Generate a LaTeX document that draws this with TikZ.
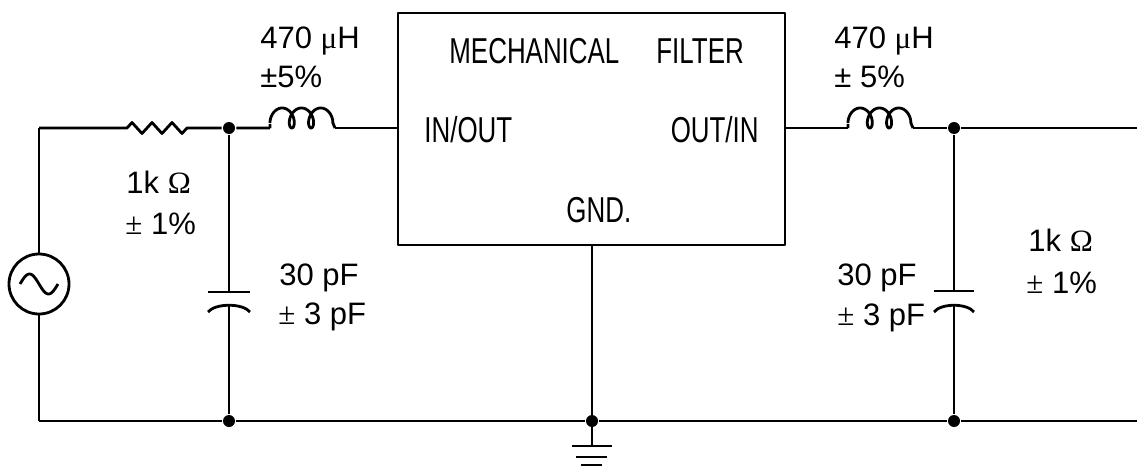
\documentclass[tikz,border=0pt]{standalone}
\usepackage{fontspec}
\usetikzlibrary{calc}
\setmainfont{Liberation Sans}
\newfontfamily\symf{Liberation Serif}
\newfontfamily\boxf[FakeStretch=0.72]{Liberation Sans}
\begin{document}
\begin{tikzpicture}[x=1pt,y=-1pt,line width=2.8pt,line join=round,
  dot/.style={circle,fill,inner sep=0pt,minimum size=12pt},
  lab/.style={inner sep=0pt,anchor=base west,font=\fontsize{31}{37}\selectfont},
  boxlab/.style={inner sep=0pt,anchor=base west,font=\boxf\fontsize{36}{42}\selectfont},
  filterbox/.style={draw,inner sep=0pt,outer sep=0pt,minimum width=387pt,minimum height=232pt,anchor=north west}]
\useasboundingbox (0,0) rectangle (1137,466);
% coordinates
\coordinate (srcT) at (39,128);
\coordinate (srcB) at (39,421);
\coordinate (r1a) at (127,128);
\coordinate (r1b) at (187,128);
\node[dot] (J1) at (229,128) {};
\coordinate (l1a) at (270,128);
\coordinate (l1b) at (335,128);
\node[filterbox] (mf) at (398,13) {};
\coordinate (l2a) at (848,128);
\coordinate (l2b) at (913,128);
\node[dot] (J2) at (954,128) {};
\coordinate (outT) at (1137,128);
\node[dot] (C1b) at (229,421) {};
\node[dot] (G) at (592,421) {};
\node[dot] (C2b) at (954,421) {};
\coordinate (outB) at (1137,421);
\coordinate (gb) at (592,446);
% source
\node[circle,draw,minimum size=60pt,inner sep=0pt,outer sep=0pt] (src) at (39,284) {};
\draw plot[domain=0:360,samples=60,variable=\t] ({20+38*\t/360},{284-10*sin(\t)});
\draw (srcT) -- (src.north);
\draw (src.south) -- (srcB);
% top-left wire and resistor
\draw (srcT) -- (r1a) -- ++(5,-5.5) -- ++(10,11) -- ++(10,-11) -- ++(10,11) -- ++(10,-11) -- ++(10,11) -- (r1b) -- (J1) -- (l1a);
% inductor 1
\draw (l1a) -- ++(0,-4) plot[domain=pi/3:6*pi-pi/3,samples=240,variable=\t]
  ({270+3.07*(\t-pi/3)-6.6*(sin(\t r)-0.866)},{128-10*(1-cos(\t r))}) -- (l1b);
\draw (l1b) -- (J1 -| mf.west);
% right side
\draw (J2 -| mf.east) -- (l2a);
\draw (l2a) -- ++(0,-4) plot[domain=pi/3:6*pi-pi/3,samples=240,variable=\t]
  ({848+3.07*(\t-pi/3)-6.6*(sin(\t r)-0.866)},{128-10*(1-cos(\t r))}) -- (l2b);
\draw (l2b) -- (J2) -- (outT);
% capacitor 1
\coordinate (c1p) at (229,292);
\coordinate (c1q) at (229,305);
\draw (J1) -- (c1p);
\draw ($(c1p)+(-21,0)$) -- ($(c1p)+(21,0)$);
\draw (208,312) .. controls (215,303) and (243,303) .. (250,312);
\draw (c1q) -- (C1b);
% capacitor 2
\coordinate (c2p) at (954,291);
\coordinate (c2q) at (954,305);
\draw (J2) -- (c2p);
\draw ($(c2p)+(-20,0)$) -- ($(c2p)+(20,0)$);
\draw (934,312) .. controls (941,303) and (967,303) .. (974,312);
\draw (c2q) -- (C2b);
% bottom wire
\draw (srcB) -- (C1b) -- (G) -- (C2b) -- (outB);
% ground
\draw (mf.south -| G) -- (gb);
\draw (572,446) -- (612,446);
\draw (576,457) -- (607,457);
\draw (581,465) -- (602,465);
% labels
\node[lab] (t1) at (259,48) {470 {\symf μ}H};
\node[lab] (t2) at (259,87) {±5\%};
\node[lab] (t3) at (125,193) {1k {\symf Ω}};
\node[lab] (t4) at (124,234) {{\symf ±} 1\%};
\node[lab] (t5) at (278,285) {30 pF};
\node[lab] (t6) at (277,324) {{\symf ±} 3 pF};
\node[lab] (t7) at (833,48) {470 {\symf μ}H};
\node[lab] (t8) at (833,87) {± 5\%};
\node[lab] (t9) at (836,285) {30 pF};
\node[lab] (t10) at (836,325) {{\symf ±} 3 pF};
\node[lab] (t11) at (1027,251) {1k {\symf Ω}};
\node[lab] (t12) at (1025,293) {{\symf ±} 1\%};
% box labels
\node[boxlab] (b1) at (448,63) {MECHANICAL};
\node[boxlab] (b2) at (655,63) {FILTER};
\node[boxlab] (b3) at (423,142) {IN/OUT};
\node[boxlab,anchor=base east] (b4) at (760,142) {OUT/IN};
\node[boxlab] (b5) at (565,222) {GND.};
\end{tikzpicture}
\end{document}
